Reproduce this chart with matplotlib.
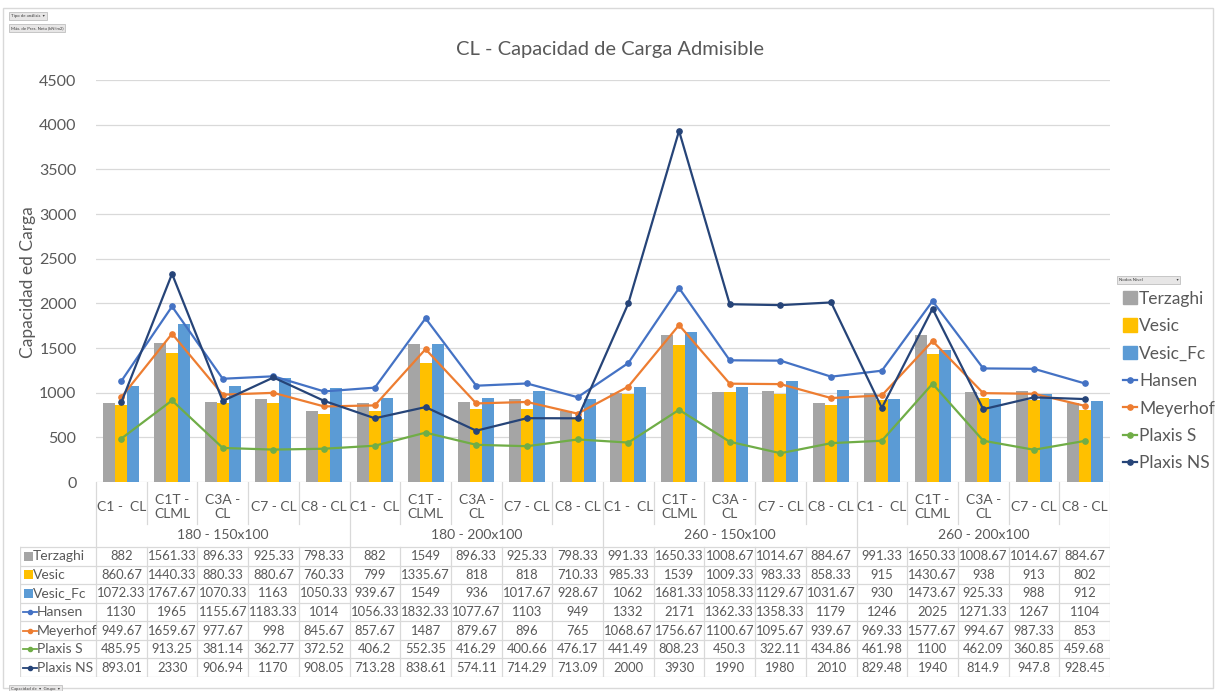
import matplotlib
matplotlib.use('Agg')
import matplotlib.pyplot as plt
from matplotlib.patches import Rectangle, Patch
from matplotlib.lines import Line2D
import numpy as np

plt.rcParams['font.family'] = ['Lato', 'DejaVu Sans']

# Categories and series
cats = ['C1 -  CL', 'C1T -\nCLML', 'C3A -\nCL', 'C7 - CL', 'C8 - CL'] * 4
groups = ['180 - 150x100', '180 - 200x100', '260 - 150x100', '260 - 200x100']

terzaghi = [882, 1561.33, 896.33, 925.33, 798.33, 882, 1549, 896.33, 925.33, 798.33,
            991.33, 1650.33, 1008.67, 1014.67, 884.67, 991.33, 1650.33, 1008.67, 1014.67, 884.67]
vesic = [860.67, 1440.33, 880.33, 880.67, 760.33, 799, 1335.67, 818, 818, 710.33,
         985.33, 1539, 1009.33, 983.33, 858.33, 915, 1430.67, 938, 913, 802]
vesic_fc = [1072.33, 1767.67, 1070.33, 1163, 1050.33, 939.67, 1549, 936, 1017.67, 928.67,
            1062, 1681.33, 1058.33, 1129.67, 1031.67, 930, 1473.67, 925.33, 988, 912]
hansen = [1130, 1965, 1155.67, 1183.33, 1014, 1056.33, 1832.33, 1077.67, 1103, 949,
          1332, 2171, 1362.33, 1358.33, 1179, 1246, 2025, 1271.33, 1267, 1104]
meyerhof = [949.67, 1659.67, 977.67, 998, 845.67, 857.67, 1487, 879.67, 896, 765,
            1068.67, 1756.67, 1100.67, 1095.67, 939.67, 969.33, 1577.67, 994.67, 987.33, 853]
plaxis_s = [485.95, 913.25, 381.14, 362.77, 372.52, 406.2, 552.35, 416.29, 400.66, 476.17,
            441.49, 808.23, 450.3, 322.11, 434.86, 461.98, 1100, 462.09, 360.85, 459.68]
plaxis_ns = [893.01, 2330, 906.94, 1170, 908.05, 713.28, 838.61, 574.11, 714.29, 713.09,
             2000, 3930, 1990, 1980, 2010, 829.48, 1940, 814.9, 947.8, 928.45]

bar_series = [('Terzaghi', terzaghi, '#A5A5A5'),
              ('Vesic', vesic, '#FFC000'),
              ('Vesic_Fc', vesic_fc, '#5B9BD5')]
line_series = [('Hansen', hansen, '#4472C4'),
               ('Meyerhof', meyerhof, '#ED7D31'),
               ('Plaxis S', plaxis_s, '#70AD47'),
               ('Plaxis NS', plaxis_ns, '#264478')]

W, H = 1215, 691
txt = '#595959'
gridc = '#D9D9D9'

fig = plt.figure(figsize=(W / 100, H / 100), dpi=100)

def box(x0, y0, x1, y1):
    # pixel box (top-left origin) -> figure fraction rect
    return [x0 / W, 1 - y1 / H, (x1 - x0) / W, (y1 - y0) / H]

# outer chart border
fig.patches.append(Rectangle((3 / W, 1 - 688 / H), 1210 / W, 680 / H,
                             transform=fig.transFigure, fill=False,
                             edgecolor=gridc, lw=1))

# ---- main plot ----
ax = fig.add_axes(box(96, 80, 1110, 482))
x = np.arange(len(cats))
bw = 0.237
for k, (name, vals, col) in enumerate(bar_series):
    ax.bar(x + (k - 1) * bw, vals, bw, color=col, zorder=2)
for name, vals, col in line_series:
    ax.plot(x, vals, color=col, lw=1.6, marker='o', ms=3.8, zorder=3)

ax.set_xlim(-0.5, len(cats) - 0.5)
ax.set_ylim(0, 4500)
ax.set_yticks(np.arange(0, 4501, 500))
ax.set_xticks([])
ax.grid(axis='y', color=gridc, lw=0.9, zorder=0)
ax.tick_params(axis='y', length=0, labelsize=11.5, colors=txt, pad=14)
for s in ax.spines.values():
    s.set_visible(False)

fig.text(610 / W, 1 - 50 / H, 'CL - Capacidad de Carga Admisible',
         fontsize=14.5, color=txt, ha='center', va='center')
fig.text(28 / W, 1 - 282 / H, 'Capacidad ed Carga', fontsize=12.5, color=txt,
         rotation=90, ha='center', va='center')

# ---- category axis + data table ----
tax = fig.add_axes(box(20, 482, 1110, 677))
tax.set_xlim(-2.0, len(cats) - 0.5)
tax.set_ylim(677, 482)
tax.axis('off')

lc = '#D9D9D9'
row_top = 547
row_h = 18.57
n_rows = len(bar_series) + len(line_series)
bottom = row_top + n_rows * row_h

for i, c in enumerate(cats):
    tax.text(i, 507, c, ha='center', va='center', fontsize=10, color=txt,
             linespacing=1.15)
for g, name in enumerate(groups):
    tax.text(g * 5 + 2, 535, name, ha='center', va='center', fontsize=10, color=txt)

# vertical separators
for i in range(len(cats) + 1):
    xv = i - 0.5
    if i % 5 == 0:
        tax.plot([xv, xv], [482, bottom], color=lc, lw=0.9)
    else:
        tax.plot([xv, xv], [482, 524], color=lc, lw=0.9)
        tax.plot([xv, xv], [row_top, bottom], color=lc, lw=0.9)
tax.plot([-2.0, -2.0], [row_top, bottom], color=lc, lw=0.9)

# horizontal row lines
for r in range(n_rows + 1):
    yy = row_top + r * row_h
    tax.plot([-2.0, len(cats) - 0.5], [yy, yy], color=lc, lw=0.9)

rows = [(n, v, c, 'bar') for n, v, c in bar_series] + \
       [(n, v, c, 'line') for n, v, c in line_series]
for r, (name, vals, col, kind) in enumerate(rows):
    yc = row_top + (r + 0.5) * row_h
    if kind == 'bar':
        tax.add_patch(Rectangle((-1.93, yc - 4.5), 0.18, 9, color=col, lw=0))
    else:
        tax.plot([-1.95, -1.67], [yc, yc], color=col, lw=1.3)
        tax.plot([-1.81], [yc], marker='o', ms=3, color=col)
    tax.text(-1.74 if kind == 'bar' else -1.66, yc, name, ha='left', va='center',
             fontsize=10, color=txt)
    for i, v in enumerate(vals):
        tax.text(i, yc, f'{v:g}', ha='center', va='center', fontsize=9.4, color=txt)

# ---- legend ----
handles = [Patch(color=c, label=n) for n, v, c in bar_series] + \
          [Line2D([], [], color=c, lw=1.6, marker='o', ms=3.8, label=n)
           for n, v, c in line_series]
fig.legend(handles=handles, loc='upper left', bbox_to_anchor=(1114 / W, 1 - 282 / H),
           frameon=False, fontsize=12.5, handlelength=0.8, handleheight=0.8,
           handletextpad=0.15, labelspacing=0.66, labelcolor=txt, borderpad=0)

# ---- pivot field buttons ----
btn = dict(facecolor='#E7E6E6', edgecolor='#BFBFBF', lw=0.6, pad=1.2)
fig.text(11 / W, 1 - 16 / H, 'Tipo de análisis  ▾', fontsize=3.2, color='#404040',
         va='center', bbox=btn)
fig.text(11 / W, 1 - 28 / H, 'Máx. de Pres. Neta (kN/m2)', fontsize=3.2,
         color='#404040', va='center', bbox=btn)
fig.text(11 / W, 1 - 689 / H, 'Capacidad de  ▾  Grupo  ▾', fontsize=3.2,
         color='#404040', va='center', bbox=btn)
fig.text(1119 / W, 1 - 280 / H, 'Nodos Nivel    ' + ' ' * 26 + '▾', fontsize=3.2,
         color='#404040', va='center', bbox=btn)

fig.savefig('out.png', dpi=100)
